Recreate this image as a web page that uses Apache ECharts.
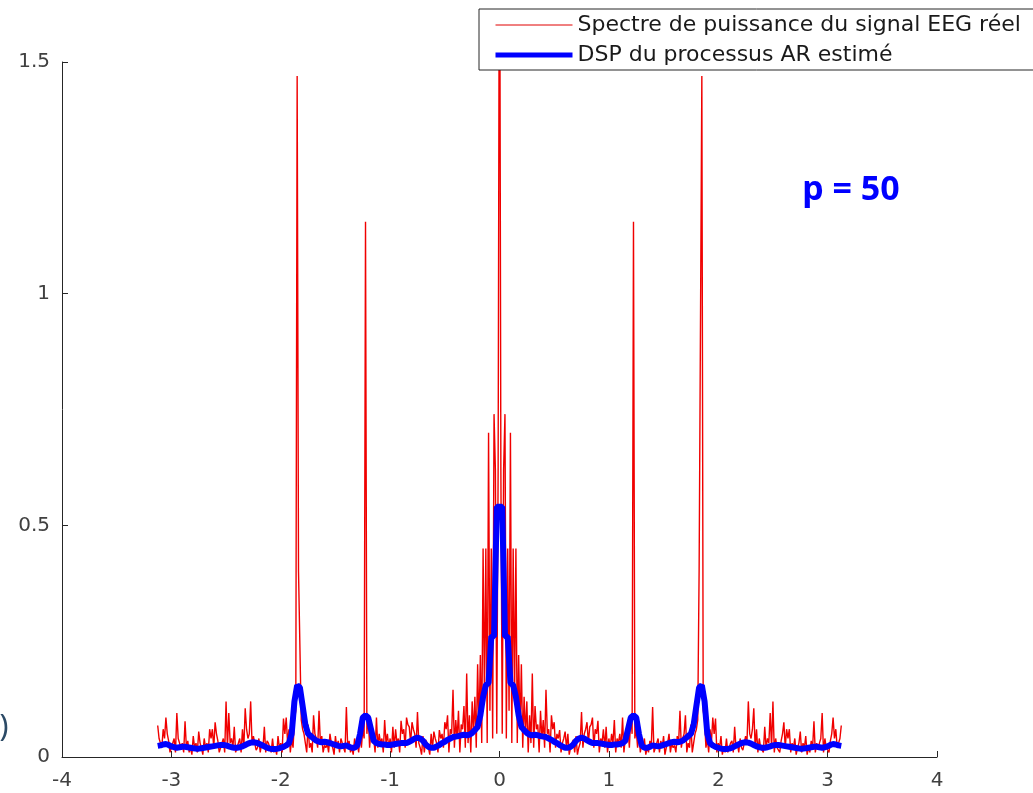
<!DOCTYPE html>
<html>
<head>
<meta charset="utf-8">
<script src="https://cdn.jsdelivr.net/npm/echarts@6/dist/echarts.min.js"></script>
<style>
html, body { margin: 0; padding: 0; background: #fff; }
#container { width: 1033px; height: 793px; }
</style>
</head>
<body>
<div id="container"></div>
<script>
// frequences positives 0 .. pi (spectre d'un signal reel -> pair, on recopie la moitie en miroir)
let eegStep = 0.0125;
let arStep = 0.025;

// spectre de puissance du signal EEG, w = 0 .. 3.125
let eegHalf = [
  2.0, 0.62, 0.05, 0.62, 0.74, 0.04, 0.45, 0.10, 0.70, 0.03,
  0.45, 0.12, 0.45, 0.03, 0.22, 0.06, 0.20, 0.02, 0.13, 0.05,
  0.12, 0.01, 0.09, 0.03, 0.18, 0.02, 0.11, 0.06, 0.07, 0.01,
  0.10, 0.04, 0.08, 0.02, 0.145, 0.05, 0.06, 0.01, 0.09, 0.06,
  0.075, 0.02, 0.05, 0.04, 0.058, 0.01, 0.03, 0.04, 0.055, 0.02,
  0.05, 0.005, 0.02, 0.03, 0.037, 0.01, 0.045, 0.005, 0.02, 0.03,
  0.097, 0.02, 0.05, 0.06, 0.075, 0.03, 0.065, 0.07, 0.085, 0.02,
  0.06, 0.05, 0.078, 0.01, 0.04, 0.03, 0.06, 0.02, 0.065, 0.01,
  0.04, 0.02, 0.05, 0.03, 0.08, 0.01, 0.04, 0.03, 0.05, 0.02,
  0.085, 0.01, 0.04, 0.03, 0.06, 0.02, 0.09, 0.05, 1.155, 0.04,
  0.06, 0.02, 0.05, 0.01, 0.03, 0.02, 0.04, 0.005, 0.02, 0.01,
  0.035, 0.02, 0.108, 0.01, 0.02, 0.03, 0.04, 0.01, 0.035, 0.02,
  0.045, 0.005, 0.02, 0.03, 0.05, 0.01, 0.03, 0.02, 0.025, 0.01,
  0.045, 0.03, 0.10, 0.02, 0.04, 0.05, 0.09, 0.01, 0.03, 0.02,
  0.07, 0.01, 0.03, 0.05, 0.06, 0.08, 0.40, 0.40, 1.47, 0.10,
  0.08, 0.02, 0.04, 0.01, 0.06, 0.03, 0.085, 0.05, 0.083, 0.01,
  0.03, 0.02, 0.045, 0.005, 0.02, 0.01, 0.04, 0.01, 0.02, 0.03,
  0.035, 0.01, 0.065, 0.02, 0.03, 0.01, 0.04, 0.02, 0.015, 0.03,
  0.045, 0.03, 0.12, 0.05, 0.04, 0.06, 0.105, 0.02, 0.06, 0.01,
  0.04, 0.02, 0.02, 0.01, 0.065, 0.02, 0.04, 0.03, 0.095, 0.02,
  0.12, 0.01, 0.04, 0.02, 0.02, 0.01, 0.035, 0.05, 0.075, 0.02,
  0.06, 0.04, 0.06, 0.01, 0.03, 0.02, 0.04, 0.005, 0.02, 0.03,
  0.055, 0.01, 0.03, 0.02, 0.045, 0.005, 0.02, 0.01, 0.035, 0.02,
  0.077, 0.01, 0.03, 0.02, 0.03, 0.04, 0.095, 0.01, 0.04, 0.02,
  0.02, 0.01, 0.035, 0.05, 0.085, 0.04, 0.06, 0.02, 0.03, 0.04,
  0.068
];

// DSP du processus AR(50) estime, w = 0 .. 3.125
let arHalf = [
  0.54, 0.54, 0.26, 0.26, 0.16, 0.155, 0.13, 0.09, 0.065, 0.058,
  0.052, 0.048, 0.047, 0.048, 0.047, 0.045, 0.044, 0.043, 0.04, 0.037,
  0.033, 0.03, 0.026, 0.023, 0.02, 0.02, 0.022, 0.027, 0.035, 0.04,
  0.042, 0.04, 0.036, 0.033, 0.03, 0.03, 0.03, 0.029, 0.028, 0.027,
  0.026, 0.026, 0.027, 0.027, 0.028, 0.03, 0.035, 0.06, 0.085, 0.09,
  0.085, 0.05, 0.025, 0.02, 0.02, 0.022, 0.025, 0.024, 0.023, 0.024,
  0.026, 0.028, 0.03, 0.032, 0.033, 0.032, 0.033, 0.035, 0.04, 0.045,
  0.05, 0.07, 0.11, 0.15, 0.155, 0.12, 0.05, 0.03, 0.025, 0.022,
  0.02, 0.018, 0.017, 0.017, 0.018, 0.02, 0.023, 0.026, 0.029, 0.031,
  0.032, 0.031, 0.029, 0.026, 0.023, 0.021, 0.02, 0.02, 0.021, 0.023,
  0.025, 0.026, 0.026, 0.025, 0.024, 0.023, 0.022, 0.021, 0.02, 0.019,
  0.018, 0.018, 0.019, 0.02, 0.021, 0.022, 0.022, 0.021, 0.02, 0.021,
  0.023, 0.026, 0.028, 0.027, 0.025, 0.024
];

let seriesNames = ['Spectre de puissance du signal EEG réel', 'DSP du processus AR estimé'];
let xTicks = [-4, -3, -2, -1, 0, 1, 2, 3, 4];
let yTicks = [0, 0.5, 1, 1.5];
let orderLabel = 'p = 50';

// spectre complet -pi .. pi
function fullSpectrum(half, step) {
  let pts = [];
  for (let i = half.length - 1; i > 0; i--) pts.push([-i * step, half[i]]);
  for (let i = 0; i < half.length; i++) pts.push([i * step, half[i]]);
  return pts;
}

let dom = document.getElementById('container');
let myChart = echarts.init(dom, null, { renderer: 'canvas' });

let axisColor = '#262626';
let labelFont = { color: '#404040', fontSize: 20, fontFamily: 'DejaVu Sans' };

let option = {
  animation: false,
  backgroundColor: '#fff',
  grid: { left: 62, right: 96, top: 62, bottom: 36, containLabel: false, outerBoundsMode: 'none' },
  xAxis: {
    type: 'value',
    min: xTicks[0],
    max: xTicks[xTicks.length - 1],
    interval: 1,
    axisLine: { show: true, onZero: false, lineStyle: { color: axisColor, width: 1 } },
    axisTick: { show: true, inside: true, length: 6, lineStyle: { color: axisColor } },
    axisLabel: Object.assign({ margin: 14 }, labelFont),
    splitLine: { show: false }
  },
  yAxis: {
    type: 'value',
    min: yTicks[0],
    max: yTicks[yTicks.length - 1],
    interval: 0.5,
    axisLine: { show: true, onZero: false, lineStyle: { color: axisColor, width: 1 } },
    axisTick: { show: true, inside: true, length: 6, lineStyle: { color: axisColor } },
    axisLabel: Object.assign({ margin: 12 }, labelFont),
    splitLine: { show: false }
  },
  legend: {
    orient: 'vertical',
    left: 479,
    top: 9,
    itemWidth: 77,
    itemHeight: 14,
    itemGap: 8,
    padding: [5, 40, 4, 14],
    backgroundColor: '#fff',
    borderColor: axisColor,
    borderWidth: 1,
    borderRadius: 0,
    selectedMode: false,
    itemStyle: { opacity: 0 },
    textStyle: { color: '#1a1a1a', fontSize: 22, fontFamily: 'DejaVu Sans', lineHeight: 22 },
    data: [
      { name: seriesNames[0], lineStyle: { width: 1, color: '#e00000' } },
      { name: seriesNames[1], lineStyle: { width: 5, color: '#0000ff' } }
    ],
    z: 10
  },
  graphic: [
    {
      type: 'text',
      x: 851, y: 190,
      style: {
        text: orderLabel,
        fill: '#0000ff',
        font: 'bold 34px "Noto Sans"',
        textAlign: 'center',
        textVerticalAlign: 'middle'
      },
      z: 20
    },
    {
      type: 'text',
      x: 4, y: 727,
      style: {
        text: ')',
        fill: '#2c4a66',
        font: '30px "Noto Sans"',
        textAlign: 'center',
        textVerticalAlign: 'middle'
      }
    }
  ],
  series: [
    {
      name: seriesNames[0],
      type: 'line',
      data: fullSpectrum(eegHalf, eegStep),
      symbol: 'none',
      clip: true,
      lineStyle: { color: '#f00000', width: 1.4 },
      itemStyle: { color: '#f00000' },
      z: 2
    },
    {
      name: seriesNames[1],
      type: 'line',
      data: fullSpectrum(arHalf, arStep),
      symbol: 'none',
      clip: true,
      lineStyle: { color: '#0000ff', width: 6 },
      itemStyle: { color: '#0000ff' },
      z: 3
    }
  ]
};

myChart.setOption(option);
</script>
</body>
</html>
